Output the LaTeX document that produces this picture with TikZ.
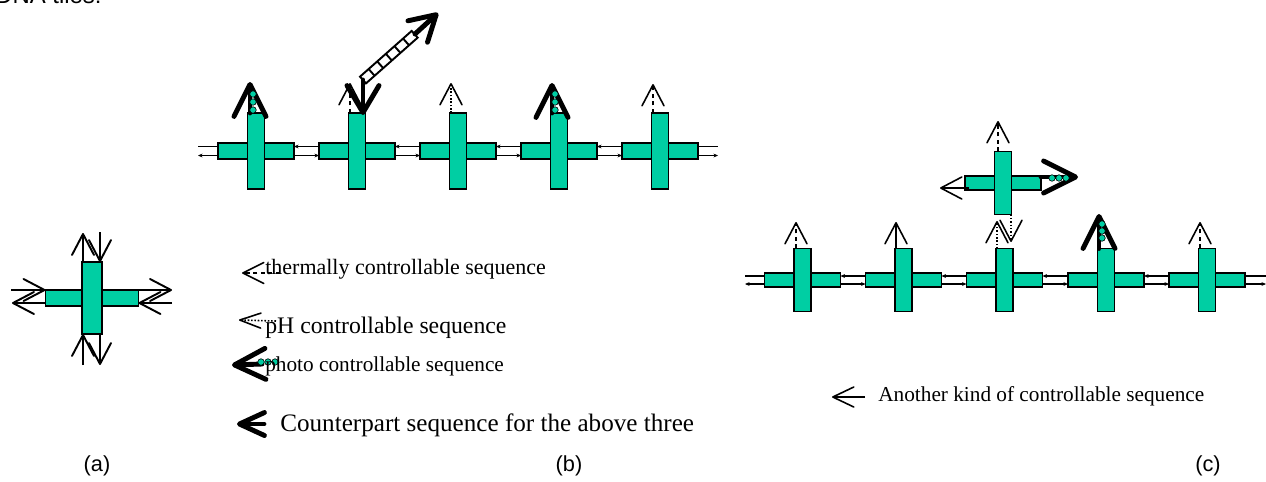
\documentclass[tikz,border=0pt]{standalone}
\usepackage{fontspec}
\setmainfont{Liberation Serif}
\newfontfamily\arialf{Liberation Sans}
\usetikzlibrary{arrows.meta,calc}
\definecolor{tile}{RGB}{0,206,163}
\begin{document}
\begin{tikzpicture}[x=0.02cm,y=-0.02cm,
  bar/.style={draw=black, line width=0.8pt, fill=tile, inner sep=0pt, outer sep=0pt},
  hB/.style={bar, minimum width=1.52cm, minimum height=0.32cm},
  vB/.style={bar, minimum width=0.34cm, minimum height=1.52cm},
  hC/.style={bar, minimum width=1.52cm, minimum height=0.28cm},
  vC/.style={bar, minimum width=0.34cm, minimum height=1.26cm},
  hA/.style={bar, minimum width=1.86cm, minimum height=0.32cm},
  vA/.style={bar, minimum width=0.40cm, minimum height=1.44cm},
  thinarr/.style={line width=0.9pt, -{Straight Barb[length=0.42cm,width=0.44cm,round]}},
  thermal/.style={thinarr, dash pattern=on 2.5pt off 1.8pt},
  phs/.style={thinarr, densely dotted},
  photoarr/.style={line width=2.8pt, line cap=round, -{Straight Barb[length=0.64cm,width=0.64cm,round]}},
  counter/.style={line width=2.8pt, line cap=round, -{Straight Barb[length=0.54cm,width=0.64cm,round]}},
  dotc/.style={fill=tile, draw=black, line width=0.35pt},
  link/.style={line width=0.6pt},
  smalltip/.tip={Stealth[length=2.6pt,width=2.2pt]},
  lt/.style={inner sep=0pt, anchor=base west, font=\fontsize{12.1}{14}\selectfont},
  lab/.style={inner sep=0pt, anchor=base, font=\arialf\fontsize{12.4}{14}\selectfont}
]
\useasboundingbox (0,0) rectangle (1266,481);

% cut-off title
\node[inner sep=0pt, anchor=base west, font=\arialf\fontsize{13.6}{16}\selectfont] (ttl) at (-5,3.5) {DNA tiles:};

% ---------------- panel (a)
\node[hA] (ah) at (92,298) {};
\node[vA] (av) at (92,298) {};
\coordinate (aU) at (83,233);
\coordinate (aD) at (100,232);
\coordinate (aBU) at (83,365);
\coordinate (aBD) at (100,365);
\coordinate (aLt) at (11,290);
\coordinate (aLb) at (12,303);
\coordinate (aRt) at (172,290);
\coordinate (aRb) at (172,303);
\begin{scope}[thinarr/.append style={line width=1.1pt}]
\draw[thinarr] (av.north -| aU) -- (aU);
\draw[thinarr] (aD) -- (av.north -| aD);
\draw[thinarr] (aBU) -- (av.south -| aBU);
\draw[thinarr] (av.south -| aBD) -- (aBD);
\draw[thinarr] (aLt) -- (ah.west |- aLt);
\draw[thinarr] (ah.west |- aLb) -- (aLb);
\draw[thinarr] (ah.east |- aRt) -- (aRt);
\draw[thinarr] (aRb) -- (ah.east |- aRb);
\end{scope}
\node[lab] (la) at (97,471) {(a)};

% ---------------- panel (b)
\foreach \i/\x in {1/256,2/357,3/458,4/559,5/660}{
  \node[hB] (bh\i) at (\x,151) {};
  \node[vB] (bv\i) at (\x,151) {};
}
\foreach \i in {1,...,4}{
  \pgfmathtruncatemacro\j{\i+1}
  \draw[link,smalltip-] ($(bh\i.east)+(0,-4.5)$) -- ($(bh\j.west)+(0,-4.5)$);
  \draw[link,-smalltip] ($(bh\i.east)+(0,4.5)$) -- ($(bh\j.west)+(0,4.5)$);
}
\coordinate (bL) at (198,151);
\coordinate (bR) at (718,151);
\draw[link] ($(bL)+(0,-4.5)$) -- ($(bh1.west)+(0,-4.5)$);
\draw[link,smalltip-] ($(bL)+(0,4.5)$) -- ($(bh1.west)+(0,4.5)$);
\draw[link] ($(bh5.east)+(0,-4.5)$) -- ($(bR)+(0,-4.5)$);
\draw[link,-smalltip] ($(bh5.east)+(0,4.5)$) -- ($(bR)+(0,4.5)$);

\coordinate (b1t) at (250,82);
\draw[photoarr] (bv1.north -| b1t) -- (b1t);
\foreach \y in {94,102,110} \filldraw[dotc] (253,\y) circle[radius=0.065cm];

\coordinate (b2t) at (350,83);
\draw[thermal] (bv2.north -| b2t) -- (b2t);
\coordinate (b2d) at (363,80);
\draw[counter] (b2d) -- ($(bv2.north -| b2d)+(0,2)$);
\begin{scope}[shift={(b2d)}, rotate=41.5, line width=1.1pt]
  \draw (0,-4.5) rectangle (69,4.5);
  \foreach \t in {11.5,23,34.5,46,57.5} \draw (\t,-4.5) -- (\t,4.5);
\end{scope}
\coordinate (lad) at (415,34);
\coordinate (b2u) at (438,13);
\draw[line width=2.8pt, line cap=round, -{Straight Barb[length=0.5cm,width=0.58cm,round]}] (lad) -- (b2u);

\coordinate (b3t) at (451,83);
\draw[phs] (bv3.north -| b3t) -- (b3t);

\coordinate (b4t) at (552,83);
\draw[photoarr] (bv4.north -| b4t) -- (b4t);
\foreach \y in {94,102,110} \filldraw[dotc] (555,\y) circle[radius=0.065cm];

\coordinate (b5t) at (653,84);
\draw[thermal] (bv5.north -| b5t) -- (b5t);

% legend (b)
\coordinate (lgT) at (242,273);
\coordinate (lgTs) at (280,273);
\draw[line width=0.9pt, dash pattern=on 2.5pt off 1.8pt, -{Straight Barb[length=0.42cm,width=0.42cm,round]}] (lgTs) -- (lgT);
\node[lt, font=\fontsize{12.5}{15}\selectfont] (txtT) at (265,274) {thermally controllable sequence};

\coordinate (lgP) at (239,320);
\coordinate (lgPs) at (276,321);
\draw[line width=0.9pt, densely dotted, -{Straight Barb[length=0.42cm,width=0.3cm,round]}] (lgPs) -- (lgP);
\node[lt, font=\fontsize{13.5}{16}\selectfont] (txtP) at (265,333) {pH controllable sequence};

\coordinate (lgF) at (232,365);
\coordinate (lgFs) at (262,364);
\draw[line width=2.8pt, line cap=round, -{Straight Barb[length=0.62cm,width=0.62cm,round]}] (lgFs) -- (lgF);
\foreach \x in {261,268,275} \filldraw[dotc] (\x,362) circle[radius=0.065cm];
\node[lt] (txtF) at (265,371) {photo controllable sequence};

\coordinate (lgC) at (237,424);
\coordinate (lgCs) at (264,424);
\draw[line width=2.8pt, line cap=round, -{Straight Barb[length=0.5cm,width=0.46cm,round]}] (lgCs) -- (lgC);
\node[lt, font=\fontsize{14.3}{17}\selectfont] (txtC) at (280,431) {Counterpart sequence for the above three};

\node[lab] (lb) at (569,471) {(b)};

% ---------------- panel (c)
\foreach \i/\x in {1/802.5,2/903.5,3/1004.5,4/1106,5/1207}{
  \node[hC] (ch\i) at (\x,280) {};
  \node[vC] (cv\i) at (\x,280) {};
}
\foreach \i in {1,...,4}{
  \pgfmathtruncatemacro\j{\i+1}
  \draw[link,smalltip-] ($(ch\i.east)+(0,-4)$) -- ($(ch\j.west)+(0,-4)$);
  \draw[link,-smalltip] ($(ch\i.east)+(0,4)$) -- ($(ch\j.west)+(0,4)$);
}
\coordinate (cL) at (745,280);
\coordinate (cR) at (1266,280);
\draw[link] ($(cL)+(0,-4)$) -- ($(ch1.west)+(0,-4)$);
\draw[link,smalltip-] ($(cL)+(0,4)$) -- ($(ch1.west)+(0,4)$);
\draw[link] ($(ch5.east)+(0,-4)$) -- ($(cR)+(0,-4)$);
\draw[link,-smalltip] ($(ch5.east)+(0,4)$) -- ($(cR)+(0,4)$);

% upper tile
\node[hC] (uh) at (1003,183) {};
\node[vC] (uv) at (1003,183) {};
\coordinate (uT) at (998,121);
\draw[thermal] (uv.north -| uT) -- (uT);
\coordinate (uL) at (940,188);
\draw[thinarr] ($(uh.west |- uL)+(4,0)$) -- (uL);
\coordinate (uR) at (1078,177);
\draw[photoarr] (uh.east |- uR) -- (uR);
\foreach \x in {1052,1059,1066} \filldraw[dotc] (\x,178) circle[radius=0.065cm];

\coordinate (c3u) at (997,221);
\draw[phs] (cv3.north -| c3u) -- (c3u);
\coordinate (c3d) at (1011,242);
\draw[phs] (uv.south -| c3d) -- (c3d);

\coordinate (c1t) at (796,222);
\draw[thermal] (cv1.north -| c1t) -- (c1t);
\coordinate (c2t) at (896,222);
\draw[thinarr] (cv2.north -| c2t) -- (c2t);
\coordinate (c4t) at (1099,214);
\draw[photoarr] (cv4.north -| c4t) -- (c4t);
\foreach \y in {224,231,238} \filldraw[dotc] (1102,\y) circle[radius=0.065cm];
\coordinate (c5t) at (1200,222);
\draw[thermal] (cv5.north -| c5t) -- (c5t);

% legend (c)
\coordinate (lgA) at (832,397);
\coordinate (lgAs) at (865,397);
\draw[line width=0.9pt, -{Straight Barb[length=0.42cm,width=0.4cm,round]}] (lgAs) -- (lgA);
\node[lt] (txtA) at (878,401) {Another kind of controllable sequence};

\node[lab] (lc) at (1208,471) {(c)};
\end{tikzpicture}
\end{document}
